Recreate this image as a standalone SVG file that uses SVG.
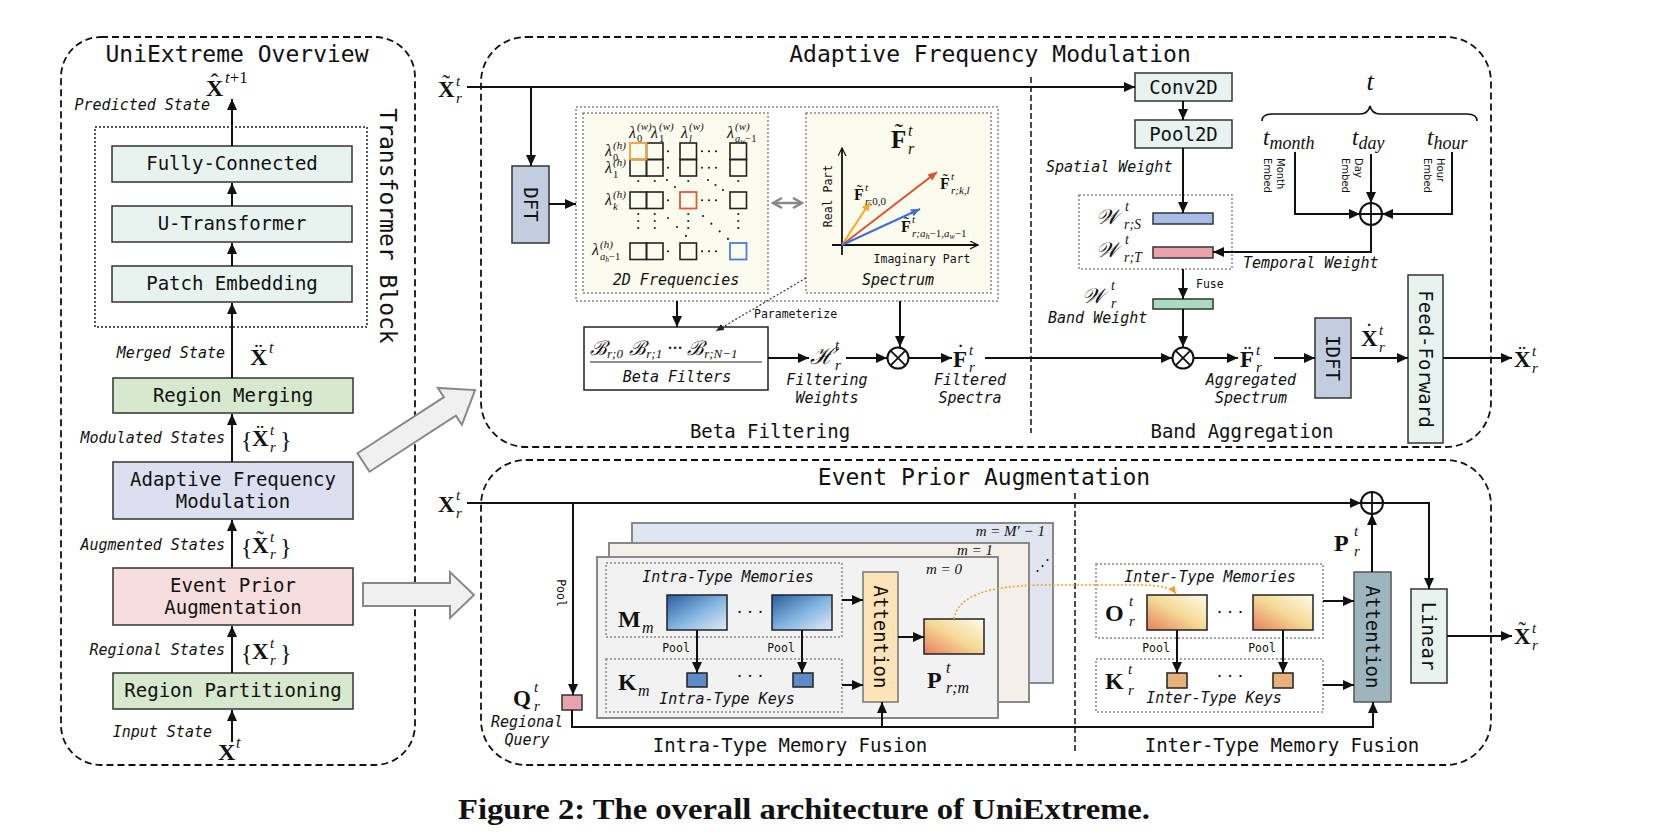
<svg xmlns="http://www.w3.org/2000/svg" width="1670" height="840" viewBox="0 0 1670 840">
<defs>
<style>
.t19{font-family:"DejaVu Sans Mono",monospace;font-size:19px;fill:#111}
.ttl{font-family:"DejaVu Sans Mono",monospace;font-size:23px;fill:#111}
.sec{font-family:"DejaVu Sans Mono",monospace;font-size:19px;fill:#111}
.it{font-family:"DejaVu Sans Mono",monospace;font-size:15px;font-style:italic;fill:#111}
.sm{font-family:"DejaVu Sans Mono",monospace;font-size:11.5px;fill:#111}
.emb{font-family:"DejaVu Sans",sans-serif;font-size:10px;fill:#111}
.mb{font-family:"Liberation Serif","DejaVu Serif",serif;font-weight:bold;fill:#111}
.mr{font-family:"Liberation Serif","DejaVu Serif",serif;fill:#111}
.mi{font-family:"Liberation Serif","DejaVu Serif",serif;font-style:italic;fill:#111}
.cal{font-family:"DejaVu Serif","Liberation Serif",serif;font-style:italic;fill:#111}
.box{stroke:#333;stroke-width:1.5}
.mint{fill:#e8f3ef}
.grn{fill:#d6e8cd}
.lav{fill:#dcdff0}
.pnk{fill:#f6dede}
.dft{fill:#c2cde0}
.dash{fill:none;stroke:#111;stroke-width:1.8;stroke-dasharray:7 4}
.dot{stroke:#888;stroke-width:1.5;stroke-dasharray:2 2}
.ar{fill:none;stroke:#111;stroke-width:2;marker-end:url(#ah)}
.cell{fill:none;stroke:#222;stroke-width:1.6}
.dl{fill:none;stroke:#222;stroke-width:2.2;stroke-linecap:round}
.garr{fill:#f0f0f0;stroke:#888;stroke-width:2}
.op{fill:none;stroke:#111;stroke-width:1.8}
</style>
<marker id="ah" markerUnits="userSpaceOnUse" markerWidth="11" markerHeight="10" refX="11" refY="5" orient="auto"><path d="M0,0 L11,5 L0,10 z" fill="#111"/></marker>
<marker id="ahs" markerUnits="userSpaceOnUse" markerWidth="8" markerHeight="7" refX="8" refY="3.5" orient="auto"><path d="M0,0 L8,3.5 L0,7 z" fill="#222"/></marker>
<marker id="ahg" markerUnits="userSpaceOnUse" markerWidth="12" markerHeight="12" refX="10" refY="6" orient="auto-start-reverse"><path d="M1,1 L10,6 L1,11" fill="none" stroke="#888" stroke-width="2.5"/></marker>
<marker id="aho" markerUnits="userSpaceOnUse" markerWidth="8" markerHeight="7" refX="8" refY="3.5" orient="auto"><path d="M0,0 L8,3.5 L0,7 z" fill="#f0a020"/></marker>
<marker id="axa" markerUnits="userSpaceOnUse" markerWidth="9" markerHeight="9" refX="8" refY="4.5" orient="auto"><path d="M0,0.5 L8,4.5 L0,8.5" fill="none" stroke="#111" stroke-width="1.2"/></marker>
<marker id="mo" markerUnits="userSpaceOnUse" markerWidth="9" markerHeight="8" refX="9" refY="4" orient="auto"><path d="M0,0 L9,4 L0,8 z" fill="#f5a623"/></marker>
<marker id="mrd" markerUnits="userSpaceOnUse" markerWidth="9" markerHeight="8" refX="9" refY="4" orient="auto"><path d="M0,0 L9,4 L0,8 z" fill="#e0522d"/></marker>
<marker id="mbl" markerUnits="userSpaceOnUse" markerWidth="9" markerHeight="8" refX="9" refY="4" orient="auto"><path d="M0,0 L9,4 L0,8 z" fill="#3d6fd6"/></marker>
<linearGradient id="gblue" x1="0" y1="0" x2="1" y2="1"><stop offset="0" stop-color="#2a5b9c"/><stop offset="0.5" stop-color="#7fb2e0"/><stop offset="1" stop-color="#e4ebf7"/></linearGradient>
<linearGradient id="gor" x1="0" y1="1" x2="1" y2="0"><stop offset="0" stop-color="#e67f5e"/><stop offset="0.5" stop-color="#f5d995"/><stop offset="1" stop-color="#fffbea"/></linearGradient>
</defs>
<rect width="1670" height="840" fill="#fff"/>

<!-- ===== Overview ===== -->
<g id="overview">
<rect class="dash" x="61" y="37" width="354" height="728" rx="40"/>
<text class="ttl" x="237" y="62" text-anchor="middle">UniExtreme Overview</text>
<rect x="95" y="127" width="272" height="200" fill="none" stroke="#222" stroke-width="1.5" stroke-dasharray="2 2"/>
<text class="ttl" transform="translate(388,226) rotate(90)" text-anchor="middle" dy="0.35em">Transformer Block</text>
<text class="it" x="210" y="110" text-anchor="end">Predicted State</text>
<text class="it" x="225" y="358" text-anchor="end">Merged State</text>
<text class="it" x="225" y="443" text-anchor="end">Modulated States</text>
<text class="it" x="225" y="550" text-anchor="end">Augmented States</text>
<text class="it" x="225" y="655" text-anchor="end">Regional States</text>
<text class="it" x="212" y="737" text-anchor="end">Input State</text>
<text class="mb" x="206" y="96" font-size="24">X</text><text class="mr" x="214.5" y="90" font-size="24" text-anchor="middle">ˆ</text><text class="mi" x="225" y="83" font-size="17">t<tspan font-style="normal">+1</tspan></text>
<text class="mb" x="250" y="365" font-size="24">X</text><text class="mr" x="258.5" y="359" font-size="24" text-anchor="middle">¨</text><text class="mi" x="269" y="353" font-size="16">t</text>
<text class="mr" x="241" y="448" font-size="24">{</text><text class="mb" x="252" y="446" font-size="23">X</text><text class="mr" x="260" y="440" font-size="23" text-anchor="middle">¨</text><text class="mi" x="270" y="435" font-size="15">t</text><text class="mi" x="270" y="452" font-size="15">r</text><text class="mr" x="280" y="448" font-size="24">}</text>
<text class="mr" x="241" y="555" font-size="24">{</text><text class="mb" x="252" y="553" font-size="23">X</text><text class="mr" x="260" y="547" font-size="23" text-anchor="middle">˜</text><text class="mi" x="270" y="542" font-size="15">t</text><text class="mi" x="270" y="559" font-size="15">r</text><text class="mr" x="280" y="555" font-size="24">}</text>
<text class="mr" x="241" y="661" font-size="24">{</text><text class="mb" x="252" y="659" font-size="23">X</text><text class="mi" x="270" y="648" font-size="15">t</text><text class="mi" x="270" y="665" font-size="15">r</text><text class="mr" x="280" y="661" font-size="24">}</text>
<text class="mb" x="218" y="760" font-size="24">X</text><text class="mi" x="236" y="748" font-size="16">t</text>
</g>
<g id="fully-connected"><rect class="box mint" x="112" y="146" width="240" height="36"/><text class="t19" x="232" y="170" text-anchor="middle">Fully-Connected</text></g>
<g id="u-transformer"><rect class="box mint" x="112" y="206" width="240" height="36"/><text class="t19" x="232" y="230" text-anchor="middle">U-Transformer</text></g>
<g id="patch-embedding"><rect class="box mint" x="112" y="266" width="240" height="36"/><text class="t19" x="232" y="290" text-anchor="middle">Patch Embedding</text></g>
<g id="region-merging"><rect class="box grn" x="113" y="378" width="240" height="35"/><text class="t19" x="233" y="402" text-anchor="middle">Region Merging</text></g>
<g id="afm-node"><rect class="box lav" x="113" y="462" width="240" height="57"/><text class="t19" x="233" y="486" text-anchor="middle">Adaptive Frequency</text><text class="t19" x="233" y="508" text-anchor="middle">Modulation</text></g>
<g id="epa-node"><rect class="box pnk" x="113" y="568" width="240" height="57"/><text class="t19" x="233" y="592" text-anchor="middle">Event Prior</text><text class="t19" x="233" y="614" text-anchor="middle">Augmentation</text></g>
<g id="region-partitioning"><rect class="box grn" x="113" y="673" width="240" height="36"/><text class="t19" x="233" y="697" text-anchor="middle">Region Partitioning</text></g>

<!-- ===== AFM ===== -->
<g id="afm-frame">
<rect class="dash" x="481" y="37" width="1010" height="410" rx="45"/>
<text class="ttl" x="990" y="62" text-anchor="middle">Adaptive Frequency Modulation</text>
<line x1="1031" y1="77" x2="1031" y2="433" stroke="#111" stroke-width="1.5" stroke-dasharray="6 3"/>
<text class="sec" x="770" y="438" text-anchor="middle">Beta Filtering</text>
<text class="sec" x="1242" y="438" text-anchor="middle">Band Aggregation</text>
<text class="mb" x="438" y="97" font-size="23">X</text><text class="mr" x="446" y="91" font-size="23" text-anchor="middle">˜</text><text class="mi" x="456" y="86" font-size="15">t</text><text class="mi" x="456" y="103" font-size="15">r</text>
</g>
<g id="dft"><rect class="box dft" x="512" y="166" width="37" height="77"/><text class="t19" font-size="18" transform="translate(530.5,204.5) rotate(90)" text-anchor="middle" dy="0.35em">DFT</text></g>
<g id="freq-panel">
<rect x="576" y="107" width="422" height="194" fill="none" class="dot"/>
<rect x="583" y="113" width="185" height="180" fill="#fbfbee" class="dot"/>
<rect x="806" y="113" width="185" height="180" fill="#fbfbee" class="dot"/>
<text class="it" x="676" y="285" text-anchor="middle">2D Frequencies</text>
<text class="it" x="898" y="285" text-anchor="middle">Spectrum</text>
<rect class="cell" x="646.5" y="143" width="16.5" height="16.5"/>
<rect class="cell" x="680" y="143" width="16.5" height="16.5"/>
<rect class="cell" x="730" y="143" width="16.5" height="16.5"/>
<rect class="cell" x="630" y="159.5" width="16.5" height="16.5"/>
<rect class="cell" x="646.5" y="159.5" width="16.5" height="16.5"/>
<rect class="cell" x="680" y="159.5" width="16.5" height="16.5"/>
<rect class="cell" x="730" y="159.5" width="16.5" height="16.5"/>
<rect class="cell" x="630" y="192" width="16.5" height="16.5"/>
<rect class="cell" x="646.5" y="192" width="16.5" height="16.5"/>
<rect class="cell" x="730" y="192" width="16.5" height="16.5"/>
<rect class="cell" x="630" y="243" width="16.5" height="16.5"/>
<rect class="cell" x="646.5" y="243" width="16.5" height="16.5"/>
<rect class="cell" x="680" y="243" width="16.5" height="16.5"/>
<rect x="630" y="143" width="16.5" height="16.5" fill="none" stroke="#f0a030" stroke-width="1.8"/>
<rect x="680" y="192" width="16.5" height="16.5" fill="none" stroke="#e05a3a" stroke-width="1.8"/>
<rect x="730" y="243" width="16.5" height="16.5" fill="none" stroke="#4a7fd8" stroke-width="1.8"/>
<path class="dl" stroke-dasharray="0 7" d="M668,151.25 H675 M668,167.75 H675 M668,200.25 H675 M668,251.25 H675 M702,151.25 H723 M702,167.75 H723 M702,200.25 H723 M702,251.25 H723"/>
<path class="dl" stroke-dasharray="0 6" d="M638.25,181 V187 M654.75,181 V187 M688.25,181 V187 M738.25,181 V187"/>
<path class="dl" stroke-dasharray="0 7" d="M638.25,214 V235 M654.75,214 V235 M688.25,214 V235 M738.25,214 V235"/>
<path class="dl" stroke-dasharray="0 10.6" d="M667,180 L675,187"/>
<path class="dl" stroke-dasharray="0 9" d="M708,180 L723,190"/>
<path class="dl" stroke-dasharray="0 12.7" d="M668,218 L686,236"/>
<path class="dl" stroke-dasharray="0 11.3" d="M703,216 L728,239"/>
<text class="mi" x="629" y="138" font-size="16">λ</text><text class="mi" x="637" y="130" font-size="11">(w)</text><text class="mr" x="637" y="142" font-size="10.5">0</text>
<text class="mi" x="651" y="138" font-size="16">λ</text><text class="mi" x="659" y="130" font-size="11">(w)</text><text class="mr" x="659" y="142" font-size="10.5">1</text>
<text class="mi" x="681" y="138" font-size="16">λ</text><text class="mi" x="689" y="130" font-size="11">(w)</text><text class="mi" x="689" y="142" font-size="10.5">l</text>
<text class="mi" x="727" y="138" font-size="16">λ</text><text class="mi" x="735" y="130" font-size="11">(w)</text><text class="mi" x="735" y="142" font-size="10.5">a<tspan font-size="7.5" dy="2">w</tspan><tspan font-style="normal" dy="-2">−1</tspan></text>
<text class="mi" x="605" y="156" font-size="16">λ</text><text class="mi" x="613" y="149" font-size="11">(h)</text><text class="mr" x="613" y="161" font-size="10.5">0</text>
<text class="mi" x="605" y="173" font-size="16">λ</text><text class="mi" x="613" y="166" font-size="11">(h)</text><text class="mr" x="613" y="178" font-size="10.5">1</text>
<text class="mi" x="605" y="205" font-size="16">λ</text><text class="mi" x="613" y="198" font-size="11">(h)</text><text class="mi" x="613" y="210" font-size="10.5">k</text>
<text class="mi" x="592" y="255" font-size="16">λ</text><text class="mi" x="600" y="248" font-size="11">(h)</text><text class="mi" x="600" y="260" font-size="10.5">a<tspan font-size="7.5" dy="2">h</tspan><tspan font-style="normal" dy="-2">−1</tspan></text>
<text class="mb" x="891" y="148" font-size="25">F</text><text class="mr" x="899" y="141" font-size="25" text-anchor="middle">˜</text><text class="mi" x="908" y="136" font-size="16">t</text><text class="mi" x="908" y="154" font-size="16">r</text>
<path d="M842,255 V148" class="op" stroke-width="1.2" marker-end="url(#axa)"/>
<path d="M832,245 H978" class="op" stroke-width="1.2" marker-end="url(#axa)"/>
<path d="M842,245 L870,202" fill="none" stroke="#f5a623" stroke-width="2" marker-end="url(#mo)"/>
<path d="M842,245 L937,172" fill="none" stroke="#e0522d" stroke-width="2" marker-end="url(#mrd)"/>
<path d="M842,245 L920,209" fill="none" stroke="#3d6fd6" stroke-width="2" marker-end="url(#mbl)"/>
<text class="sm" transform="translate(828,196) rotate(-90)" text-anchor="middle" dy="0.35em">Real Part</text>
<text class="sm" x="922" y="263" text-anchor="middle">Imaginary Part</text>
<text class="mb" x="854" y="200" font-size="16">F</text><text class="mr" x="859.5" y="196" font-size="16" text-anchor="middle">˜</text><text class="mi" x="865" y="191" font-size="11">t</text><text class="mi" x="865" y="205" font-size="11">r<tspan font-style="normal">;0,0</tspan></text>
<text class="mb" x="940" y="189" font-size="16">F</text><text class="mr" x="945.5" y="185" font-size="16" text-anchor="middle">˜</text><text class="mi" x="951" y="180" font-size="11">t</text><text class="mi" x="951" y="194" font-size="11">r;k,l</text>
<text class="mb" x="901" y="232" font-size="16">F</text><text class="mr" x="906.5" y="228" font-size="16" text-anchor="middle">˜</text><text class="mi" x="912" y="223" font-size="11">t</text><text class="mi" x="912" y="237" font-size="11">r;a<tspan font-size="8" dy="2">h</tspan><tspan font-style="normal" dy="-2">−1,</tspan>a<tspan font-size="8" dy="2">w</tspan><tspan font-style="normal" dy="-2">−1</tspan></text>
</g>
<g id="beta-filters">
<rect x="584" y="327" width="184" height="63" fill="#fff" stroke="#222" stroke-width="1.5"/>
<line x1="590" y1="362" x2="762" y2="362" stroke="#222" stroke-width="1.2"/>
<text class="cal" x="590" y="355" font-size="20">ℬ<tspan class="mi" font-size="13" dy="3">r;</tspan><tspan class="mr" font-size="13">0</tspan><tspan dy="-3"> ℬ</tspan><tspan class="mi" font-size="13" dy="3">r;</tspan><tspan class="mr" font-size="13">1</tspan><tspan class="mr" dy="-3"> ··· </tspan><tspan>ℬ</tspan><tspan class="mi" font-size="13" dy="3">r;N</tspan><tspan class="mr" font-size="13">−1</tspan></text>
<text class="it" x="677" y="382" text-anchor="middle">Beta Filters</text>
<text class="sm" x="754" y="318">Parameterize</text>
</g>
<g id="filter-labels">
<text class="cal" x="810" y="364" font-size="23">ℋ</text><text class="mi" x="835" y="350" font-size="15">t</text><text class="mi" x="835" y="370" font-size="15">r</text>
<text class="it" x="827" y="385" text-anchor="middle">Filtering</text><text class="it" x="827" y="403" text-anchor="middle">Weights</text>
<text class="mb" x="953" y="367" font-size="23">F</text><text class="mr" x="960.5" y="360" font-size="23" text-anchor="middle">˙</text><text class="mi" x="969" y="355" font-size="15">t</text><text class="mi" x="969" y="372" font-size="15">r</text>
<text class="it" x="970" y="385" text-anchor="middle">Filtered</text><text class="it" x="970" y="403" text-anchor="middle">Spectra</text>
</g>
<g id="mul1"><circle cx="898" cy="358" r="10.5" fill="#fff" stroke="#111" stroke-width="2"/><path d="M890.6,350.6 L905.4,365.4 M905.4,350.6 L890.6,365.4" stroke="#111" stroke-width="1.8"/></g>
<g id="conv2d"><rect class="box mint" x="1135" y="73" width="97" height="28"/><text class="t19" x="1183.5" y="94" text-anchor="middle">Conv2D</text></g>
<g id="pool2d"><rect class="box mint" x="1135" y="120" width="97" height="28"/><text class="t19" x="1183.5" y="141" text-anchor="middle">Pool2D</text></g>
<g id="weights">
<text class="it" x="1046" y="172">Spatial Weight</text>
<rect x="1079" y="195" width="153" height="74" fill="none" class="dot"/>
<rect x="1153" y="213" width="60" height="11" fill="#a6bde8" stroke="#333" stroke-width="1.5"/>
<rect x="1153" y="247" width="60" height="11" fill="#e9a3ab" stroke="#333" stroke-width="1.5"/>
<text class="cal" x="1096" y="224" font-size="21">𝒲</text><text class="mi" x="1125" y="211" font-size="14">t</text><text class="mi" x="1124" y="229" font-size="14">r;S</text>
<text class="cal" x="1096" y="257" font-size="21">𝒲</text><text class="mi" x="1125" y="244" font-size="14">t</text><text class="mi" x="1124" y="262" font-size="14">r;T</text>
<text class="it" x="1243" y="268">Temporal Weight</text>
<text class="sm" x="1196" y="288">Fuse</text>
<rect x="1153" y="299" width="60" height="10" fill="#a9dcc1" stroke="#333" stroke-width="1.5"/>
<text class="cal" x="1082" y="303" font-size="21">𝒲</text><text class="mi" x="1111" y="290" font-size="14">t</text><text class="mi" x="1111" y="308" font-size="14">r</text>
<text class="it" x="1048" y="323">Band Weight</text>
</g>
<g id="time-embed">
<text class="mi" x="1370" y="90" font-size="26" text-anchor="middle">t</text>
<path d="M1262,121 q0,-7 10,-7 H1360 q8,0 10,-8 q2,8 10,8 H1467 q10,0 10,7" fill="none" stroke="#111" stroke-width="1.6"/>
<text class="mi" x="1263" y="145" font-size="23">t<tspan font-size="18" dy="4">month</tspan></text>
<text class="mi" x="1352" y="145" font-size="23">t<tspan font-size="18" dy="4">day</tspan></text>
<text class="mi" x="1427" y="145" font-size="23">t<tspan font-size="18" dy="4">hour</tspan></text>
<text class="emb" transform="translate(1277,158) rotate(90)">Month</text><text class="emb" transform="translate(1264,158) rotate(90)">Embed</text>
<text class="emb" transform="translate(1355,158) rotate(90)">Day</text><text class="emb" transform="translate(1342,158) rotate(90)">Embed</text>
<text class="emb" transform="translate(1437,158) rotate(90)">Hour</text><text class="emb" transform="translate(1424,158) rotate(90)">Embed</text>
</g>
<g id="add1"><circle cx="1371" cy="214" r="11" fill="#fff" stroke="#111" stroke-width="2"/><path d="M1360,214 H1382 M1371,203 V225" stroke="#111" stroke-width="1.8"/></g>
<g id="mul2"><circle cx="1183" cy="358" r="10.5" fill="#fff" stroke="#111" stroke-width="2"/><path d="M1175.6,350.6 L1190.4,365.4 M1190.4,350.6 L1175.6,365.4" stroke="#111" stroke-width="1.8"/></g>
<g id="agg-labels">
<text class="mb" x="1240" y="367" font-size="23">F</text><text class="mr" x="1247.5" y="361" font-size="23" text-anchor="middle">¨</text><text class="mi" x="1256" y="355" font-size="15">t</text><text class="mi" x="1256" y="372" font-size="15">r</text>
<text class="it" x="1251" y="385" text-anchor="middle">Aggregated</text><text class="it" x="1251" y="403" text-anchor="middle">Spectrum</text>
<text class="mb" x="1361" y="346" font-size="23">X</text><text class="mr" x="1369" y="339" font-size="23" text-anchor="middle">˙</text><text class="mi" x="1379" y="335" font-size="15">t</text><text class="mi" x="1379" y="352" font-size="15">r</text>
<text class="mb" x="1514" y="367" font-size="23">X</text><text class="mr" x="1522" y="361" font-size="23" text-anchor="middle">¨</text><text class="mi" x="1532" y="356" font-size="15">t</text><text class="mi" x="1532" y="373" font-size="15">r</text>
</g>
<g id="idft"><rect class="box dft" x="1315" y="318" width="36" height="80"/><text class="t19" font-size="18" transform="translate(1333,358) rotate(90)" text-anchor="middle" dy="0.35em">IDFT</text></g>
<g id="feed-forward"><rect class="box mint" x="1408" y="275" width="35" height="168"/><text class="t19" transform="translate(1425.5,359) rotate(90)" text-anchor="middle" dy="0.35em">Feed-Forward</text></g>

<!-- ===== EPA ===== -->
<g id="epa-frame">
<rect class="dash" x="481" y="460" width="1010" height="305" rx="45"/>
<text class="ttl" x="984" y="485" text-anchor="middle">Event Prior Augmentation</text>
<line x1="1075" y1="493" x2="1075" y2="753" stroke="#111" stroke-width="1.5" stroke-dasharray="6 3"/>
<text class="sec" x="790" y="752" text-anchor="middle">Intra-Type Memory Fusion</text>
<text class="sec" x="1282" y="752" text-anchor="middle">Inter-Type Memory Fusion</text>
<text class="mb" x="438" y="512" font-size="23">X</text><text class="mi" x="456" y="500" font-size="15">t</text><text class="mi" x="456" y="518" font-size="15">r</text>
<text class="sm" font-size="11" transform="translate(561,593) rotate(90)" text-anchor="middle" dy="0.35em">Pool</text>
</g>
<g id="query">
<rect x="562" y="695" width="20" height="15" fill="#e9a3ab" stroke="#333" stroke-width="1.5"/>
<text class="mb" x="513" y="706" font-size="23">Q</text><text class="mi" x="534" y="692" font-size="15">t</text><text class="mi" x="534" y="711" font-size="15">r</text>
<text class="it" x="527" y="727" text-anchor="middle">Regional</text><text class="it" x="527" y="745" text-anchor="middle">Query</text>
</g>
<g id="frame-back"><rect x="632" y="523" width="421" height="160" fill="#dfe5f1" stroke="#888" stroke-width="2"/><text class="mi" x="1045" y="536" font-size="15" text-anchor="end">m = M′ − 1</text><text class="mr" x="1042" y="570" font-size="15" text-anchor="middle">⋰</text></g>
<g id="frame-mid"><rect x="609" y="543" width="420" height="159" fill="#f4efe9" stroke="#888" stroke-width="2"/><text class="mi" x="993" y="555" font-size="15" text-anchor="end">m = 1</text></g>
<g id="frame-front"><rect x="597" y="557" width="401" height="161" fill="#f2f2f2" stroke="#888" stroke-width="2"/><text class="mi" x="926" y="574" font-size="15">m = 0</text></g>
<g id="intra-memories">
<rect x="606" y="563" width="236" height="74" fill="none" class="dot"/>
<text class="it" x="728" y="582" text-anchor="middle">Intra-Type Memories</text>
<text class="mb" x="618" y="627" font-size="24">M</text><text class="mi" x="642" y="633" font-size="16">m</text>
<rect x="667" y="595" width="60" height="35" fill="url(#gblue)" stroke="#222" stroke-width="1.5"/>
<rect x="772" y="595" width="60" height="35" fill="url(#gblue)" stroke="#222" stroke-width="1.5"/>
<text class="mr" x="750" y="618" font-size="18" text-anchor="middle">· · ·</text>
<text class="sm" font-size="11" x="676" y="652" text-anchor="middle">Pool</text>
<text class="sm" font-size="11" x="781" y="652" text-anchor="middle">Pool</text>
</g>
<g id="intra-keys">
<rect x="606" y="659" width="236" height="53" fill="none" class="dot"/>
<text class="mb" x="618" y="690" font-size="24">K</text><text class="mi" x="638" y="696" font-size="16">m</text>
<rect x="687" y="673" width="20" height="14" fill="#5b8cc8" stroke="#222" stroke-width="1.5"/>
<rect x="793" y="673" width="20" height="14" fill="#5b8cc8" stroke="#222" stroke-width="1.5"/>
<text class="mr" x="750" y="682" font-size="18" text-anchor="middle">· · ·</text>
<text class="it" x="727" y="704" text-anchor="middle">Intra-Type Keys</text>
</g>
<g id="intra-attention"><rect x="863" y="572" width="35" height="130" fill="#fde3b8" stroke="#777" stroke-width="1.5"/><text class="t19" transform="translate(880.5,637) rotate(90)" text-anchor="middle" dy="0.35em">Attention</text></g>
<g id="prompt-m">
<rect x="924" y="619" width="60" height="35" fill="url(#gor)" stroke="#222" stroke-width="1.5"/>
<text class="mb" x="927" y="688" font-size="24">P</text><text class="mi" x="946" y="673" font-size="16">t</text><text class="mi" x="946" y="693" font-size="16">r;m</text>
</g>
<g id="inter-memories">
<rect x="1096" y="564" width="227" height="74" fill="none" class="dot"/>
<text class="it" x="1210" y="582" text-anchor="middle">Inter-Type Memories</text>
<text class="mb" x="1105" y="621" font-size="24">O</text><text class="mi" x="1129" y="606" font-size="15">t</text><text class="mi" x="1129" y="626" font-size="15">r</text>
<rect x="1147" y="595" width="60" height="35" fill="url(#gor)" stroke="#222" stroke-width="1.5"/>
<rect x="1253" y="595" width="60" height="35" fill="url(#gor)" stroke="#222" stroke-width="1.5"/>
<text class="mr" x="1230" y="618" font-size="18" text-anchor="middle">· · ·</text>
<text class="sm" font-size="11" x="1156" y="652" text-anchor="middle">Pool</text>
<text class="sm" font-size="11" x="1262" y="652" text-anchor="middle">Pool</text>
</g>
<g id="inter-keys">
<rect x="1096" y="659" width="227" height="53" fill="none" class="dot"/>
<text class="mb" x="1105" y="689" font-size="24">K</text><text class="mi" x="1128" y="674" font-size="15">t</text><text class="mi" x="1128" y="695" font-size="15">r</text>
<rect x="1167" y="673" width="20" height="15" fill="#e8b07a" stroke="#222" stroke-width="1.5"/>
<rect x="1273" y="673" width="20" height="15" fill="#e8b07a" stroke="#222" stroke-width="1.5"/>
<text class="mr" x="1230" y="682" font-size="18" text-anchor="middle">· · ·</text>
<text class="it" x="1214" y="703" text-anchor="middle">Inter-Type Keys</text>
</g>
<g id="inter-attention"><rect x="1354" y="572" width="37" height="130" fill="#9db6bd" stroke="#555" stroke-width="1.5"/><text class="t19" transform="translate(1372.5,637) rotate(90)" text-anchor="middle" dy="0.35em">Attention</text></g>
<g id="add2"><circle cx="1372" cy="503" r="11" fill="#fff" stroke="#111" stroke-width="2"/><path d="M1361,503 H1383 M1372,492 V514" stroke="#111" stroke-width="1.8"/></g>
<g id="linear"><rect class="box mint" x="1411" y="589" width="36" height="94"/><text class="t19" transform="translate(1429,636) rotate(90)" text-anchor="middle" dy="0.35em">Linear</text></g>
<g id="epa-labels">
<text class="mb" x="1334" y="551" font-size="24">P</text><text class="mi" x="1354" y="536" font-size="15">t</text><text class="mi" x="1354" y="556" font-size="15">r</text>
<text class="mb" x="1514" y="644" font-size="23">X</text><text class="mr" x="1522" y="638" font-size="23" text-anchor="middle">˜</text><text class="mi" x="1532" y="633" font-size="15">t</text><text class="mi" x="1532" y="650" font-size="15">r</text>
</g>

<!-- ===== connectors ===== -->
<g id="connectors">
<path class="ar" d="M232,146 V99"/>
<path class="ar" d="M232,206 V183"/>
<path class="ar" d="M232,266 V243"/>
<path class="ar" d="M232,378 V303"/>
<path class="ar" d="M232,462 V414"/>
<path class="ar" d="M232,568 V520"/>
<path class="ar" d="M232,673 V626"/>
<path class="ar" d="M232,742 V710"/>
<polygon class="garr" transform="translate(363.5,462.5) rotate(-33)" points="0,-11 103,-11 103,-22 133,0 103,22 103,11 0,11"/>
<polygon class="garr" points="363,583 450,583 450,572 474,595 450,618 450,606 363,606"/>
<path class="ar" d="M467,87 H1135"/>
<path class="ar" d="M531,87 V166"/>
<path class="ar" d="M549,204 H576"/>
<path d="M773,203 H802" fill="none" stroke="#888" stroke-width="2.5" marker-start="url(#ahg)" marker-end="url(#ahg)"/>
<path class="ar" d="M677,301 V327"/>
<path class="ar" d="M900,301 V347"/>
<path d="M806,278 L716,331" fill="none" stroke="#333" stroke-width="1.2" stroke-dasharray="2 2" marker-end="url(#ahs)"/>
<path class="ar" d="M768,358 H809"/>
<path class="ar" d="M846,358 H887"/>
<path class="ar" d="M909,358 H952"/>
<path class="ar" d="M985,358 H1172"/>
<path class="ar" d="M1183,101 V120"/>
<path class="ar" d="M1183,148 V213"/>
<path class="ar" d="M1295,152 V214 H1360"/>
<path class="ar" d="M1371,154 V203"/>
<path class="ar" d="M1452,152 V214 H1382"/>
<path class="ar" d="M1371,225 V252 H1213"/>
<path class="ar" d="M1183,269 V299"/>
<path class="ar" d="M1183,309 V347"/>
<path class="ar" d="M1194,358 H1238"/>
<path class="ar" d="M1274,358 H1315"/>
<path class="ar" d="M1351,358 H1408"/>
<path class="ar" d="M1443,358 H1512"/>
<path class="ar" d="M467,503 H1361"/>
<path class="ar" d="M1383,503 H1429 V589"/>
<path class="ar" d="M573,503 V695"/>
<path class="ar" d="M572,710 V727 H1373 V702"/>
<path class="ar" d="M882,727 V702"/>
<path class="ar" d="M842,600 H863"/>
<path class="ar" d="M842,685 H863"/>
<path class="ar" d="M697,630 V673"/>
<path class="ar" d="M802,630 V673"/>
<path class="ar" d="M898,637 H924"/>
<path class="ar" d="M1177,630 V673"/>
<path class="ar" d="M1283,630 V673"/>
<path class="ar" d="M1323,601 H1354"/>
<path class="ar" d="M1323,685 H1354"/>
<path class="ar" d="M1372,572 V514"/>
<path class="ar" d="M1447,636 H1512"/>
<path d="M954,619 C958,595 990,586 1040,585 L1140,585 C1160,585 1172,588 1176,594" fill="none" stroke="#f0a020" stroke-width="1.5" stroke-dasharray="2 2" marker-end="url(#aho)"/>
</g>

<g id="caption"><text x="804" y="819" font-family="Liberation Serif, serif" font-weight="bold" font-size="30" text-anchor="middle" textLength="692" lengthAdjust="spacingAndGlyphs" fill="#111">Figure 2: The overall architecture of UniExtreme.</text></g>
</svg>
